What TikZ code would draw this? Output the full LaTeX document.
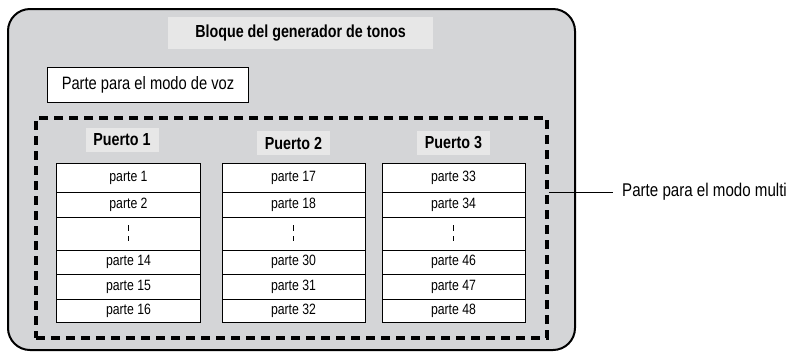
\documentclass[tikz,border=0pt]{standalone}
\usepackage{fontspec}
\setmainfont{Liberation Sans}[FakeStretch=0.82]
\usepackage{tikz}
\usetikzlibrary{shapes,arrows,positioning}
\definecolor{blockgray}{RGB}{212,213,215}
\definecolor{taggray}{RGB}{231,231,231}
\tikzstyle{block} = [draw, rectangle, fill=white, line width=1bp, inner sep=0pt, outer sep=0pt]
\tikzstyle{cell} = [block, minimum width=143bp, font=\fontsize{15}{18}\selectfont]
\tikzstyle{porttag} = [rectangle, fill=taggray, inner sep=0pt, minimum width=73bp, minimum height=24bp, font=\bfseries\fontsize{17.5}{20}\selectfont]

\begin{document}
\begin{tikzpicture}[x=1bp, y=-1bp]
        \useasboundingbox (0,0) rectangle (790,353);
        % tone generator block
        \draw [fill=blockgray, line width=2bp, rounded corners=22bp] (8,9) rectangle (575,350);
        \node [porttag, minimum width=265bp, minimum height=32bp] (title) at (300.5,33) {
            Bloque del generador de tonos
        };
        \node [block, minimum width=200bp, minimum height=35bp, font=\fontsize{18}{21}\selectfont] (voice) at (148,84.5) {
            Parte para el modo de voz
        };
        \node [draw, rectangle, line width=3.5bp, dash pattern=on 9bp off 6bp, minimum width=511bp, minimum height=220bp] (multi) at (291.5,228) {};

        \node [porttag] (port1) at (122,140) {Puerto 1};
        \node [porttag] (port2) at (293.5,143) {Puerto 2};
        \node [porttag] (port3) at (453.5,143) {Puerto 3};

        % port 1
        \node [cell, minimum height=29bp] (p1) at (128.5,177.5) {parte 1};
        \node [cell, minimum height=25bp] [below = 0pt of p1] (p2) {parte 2};
        \node [cell, minimum height=33bp] [below = 0pt of p2] (dots1) {};
        \node [cell, minimum height=24bp] [below = 0pt of dots1] (p14) {parte 14};
        \node [cell, minimum height=25bp] [below = 0pt of p14] (p15) {parte 15};
        \node [cell, minimum height=23bp] [below = 0pt of p15] (p16) {parte 16};

        % port 2
        \node [cell, minimum height=29bp] [right = 22bp of p1] (p17) {parte 17};
        \node [cell, minimum height=25bp] [below = 0pt of p17] (p18) {parte 18};
        \node [cell, minimum height=33bp] [below = 0pt of p18] (dots2) {};
        \node [cell, minimum height=24bp] [below = 0pt of dots2] (p30) {parte 30};
        \node [cell, minimum height=25bp] [below = 0pt of p30] (p31) {parte 31};
        \node [cell, minimum height=23bp] [below = 0pt of p31] (p32) {parte 32};

        % port 3
        \node [cell, minimum height=29bp] [right = 17bp of p17] (p33) {parte 33};
        \node [cell, minimum height=25bp] [below = 0pt of p33] (p34) {parte 34};
        \node [cell, minimum height=33bp] [below = 0pt of p34] (dots3) {};
        \node [cell, minimum height=24bp] [below = 0pt of dots3] (p46) {parte 46};
        \node [cell, minimum height=25bp] [below = 0pt of p46] (p47) {parte 47};
        \node [cell, minimum height=23bp] [below = 0pt of p47] (p48) {parte 48};

        \draw [line width=1bp, dash pattern=on 6bp off 5bp] ([yshift=-8bp]dots1.north) -- ([yshift=9bp]dots1.south);
        \draw [line width=1bp, dash pattern=on 6bp off 5bp] ([yshift=-8bp]dots2.north) -- ([yshift=9bp]dots2.south);
        \draw [line width=1bp, dash pattern=on 6bp off 5bp] ([yshift=-8bp]dots3.north) -- ([yshift=9bp]dots3.south);

        \node [anchor=west, inner sep=0pt, font=\fontsize{18.5}{21}\selectfont] (multitext) at (622,192) {Parte para el modo multi};
        \draw [line width=1bp] (multi.east |- multitext) -- ([xshift=-9bp]multitext.west);
    \end{tikzpicture}
\end{document}
